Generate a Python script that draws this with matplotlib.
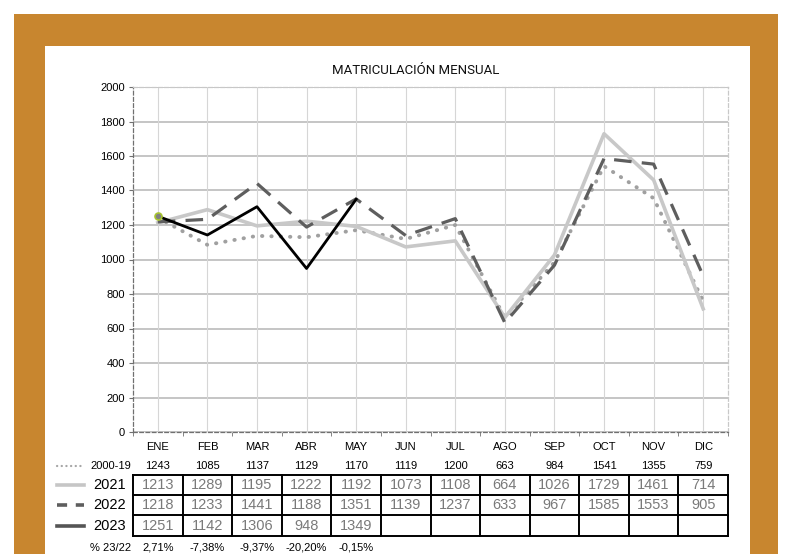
import numpy as np
import matplotlib
matplotlib.use('Agg')
import matplotlib.pyplot as plt
from matplotlib.patches import Rectangle
from matplotlib.transforms import blended_transform_factory

months = ['ENE', 'FEB', 'MAR', 'ABR', 'MAY', 'JUN', 'JUL', 'AGO', 'SEP', 'OCT', 'NOV', 'DIC']
avg_2000_19 = [1243, 1085, 1137, 1129, 1170, 1119, 1200, 663, 984, 1541, 1355, 759]
y2021 = [1213, 1289, 1195, 1222, 1192, 1073, 1108, 664, 1026, 1729, 1461, 714]
y2022 = [1218, 1233, 1441, 1188, 1351, 1139, 1237, 633, 967, 1585, 1553, 905]
y2023 = [1251, 1142, 1306, 948, 1349]
yticks = list(range(0, 2001, 200))

plt.rcParams['font.family'] = ['Liberation Sans Narrow', 'Liberation Sans', 'DejaVu Sans']

W, H = 786, 554
fig = plt.figure(figsize=(W / 100, H / 100), dpi=100, facecolor='white')

# orange frame and white panel (pixel coords -> figure fraction)
def px_rect(x0, y0, x1, y1, color):
    return Rectangle((x0 / W, 1 - y1 / H), (x1 - x0) / W, (y1 - y0) / H,
                     transform=fig.transFigure, facecolor=color, edgecolor='none', zorder=-5)

fig.patches.append(px_rect(14, 14, 778, 554, '#C8862F'))
fig.patches.append(px_rect(45, 46, 750, 554, 'white'))

# main chart
ax = fig.add_axes([133 / W, 1 - 432 / H, 595 / W, 345 / H])
ax.set_facecolor('none')
x = np.arange(len(months))
ax.set_xlim(-0.5, len(months) - 0.5)
ax.set_ylim(0, 2000)

for yv in yticks:
    ax.axhline(yv, color='#B5B5B5', lw=1.1, zorder=1)
for xv in x:
    ax.axvline(xv, color='#D6D6D6', lw=0.8, zorder=1)

ax.plot(x, avg_2000_19, color='#A0A0A0', lw=2.8, linestyle=(0, (0.1, 2.3)),
        dash_capstyle='round', zorder=3)
ax.plot(x, y2021, color='#C8C8C8', lw=2.6, zorder=4)
ax.plot(x, y2022, color='#5E5E5E', lw=2.3, linestyle=(0, (5.5, 3.2)), zorder=5)
ax.plot(x[:len(y2023)], y2023, color='black', lw=2.0, zorder=6,
        marker='o', markevery=[0], ms=5, mfc='#808080', mec='#A8C430', mew=1.2)

ax.set_yticks(yticks)
ax.set_yticklabels([str(v) for v in yticks], fontsize=8)
ax.set_xticks(x)
ax.set_xticklabels(months, fontsize=8)
ax.set_xticks(np.arange(-0.5, len(months)), minor=True)
ax.tick_params(axis='x', which='major', length=0, pad=7)
ax.tick_params(axis='x', which='minor', length=3, color='#707070')
ax.tick_params(axis='y', length=3, color='#707070', pad=3)

for side in ['left', 'bottom']:
    ax.spines[side].set_linestyle((0, (3, 2)))
    ax.spines[side].set_color('#707070')
    ax.spines[side].set_linewidth(0.9)
for side in ['top', 'right']:
    ax.spines[side].set_linestyle((0, (3, 2)))
    ax.spines[side].set_color('#C8C8C8')
    ax.spines[side].set_linewidth(0.9)

fig.text(416 / W, 1 - 70 / H, 'MATRICULACIÓN MENSUAL', ha='center', va='center',
         fontsize=9.5, family=['Roboto', 'DejaVu Sans'], color='#111111')

# table area in pixel coords, x columns taken from the chart's data axis
tab = fig.add_axes([0, 0, 1, 1])
tab.set_xlim(0, W)
tab.set_ylim(H, 0)
tab.axis('off')
tab.set_facecolor('none')
colT = blended_transform_factory(ax.transData, tab.transData)

row_y = {'avg': 466, '2021': 485, '2022': 505, '2023': 526, 'pct': 548}
table_top, table_bot = 475, 536
row_lines = [475, 495, 515, 536]
big = 10.5

for i, v in enumerate(avg_2000_19):
    tab.text(i, row_y['avg'], str(v), transform=colT, ha='center', va='center',
             fontsize=8, color='black')
for i, v in enumerate(y2021):
    tab.text(i, row_y['2021'], str(v), transform=colT, ha='center', va='center',
             fontsize=big, color='#7A7A7A')
for i, v in enumerate(y2022):
    tab.text(i, row_y['2022'], str(v), transform=colT, ha='center', va='center',
             fontsize=big, color='#7A7A7A')
for i, v in enumerate(y2023):
    tab.text(i, row_y['2023'], str(v), transform=colT, ha='center', va='center',
             fontsize=big, color='#7A7A7A')
for i, v in enumerate(y2023):
    pct = (v / y2022[i] - 1) * 100
    tab.text(i, row_y['pct'], f'{pct:.2f}%'.replace('.', ','), transform=colT,
             ha='center', va='center', fontsize=8, color='black')

for ry in row_lines:
    tab.plot([-0.5, len(months) - 0.5], [ry, ry], transform=colT, color='black', lw=1.4,
             clip_on=False)
for b in np.arange(-0.5, len(months)):
    tab.plot([b, b], [table_top, table_bot], transform=colT, color='black', lw=1.4,
             clip_on=False)

# row labels and legend keys
tab.text(111, row_y['avg'], '2000-19', ha='center', va='center', fontsize=8)
tab.text(110, row_y['2021'], '2021', ha='center', va='center', fontsize=big)
tab.text(110, row_y['2022'], '2022', ha='center', va='center', fontsize=big)
tab.text(110, row_y['2023'], '2023', ha='center', va='center', fontsize=big)
tab.text(111, row_y['pct'], '% 23/22', ha='center', va='center', fontsize=8)

tab.plot([57, 84], [row_y['avg'], row_y['avg']], color='#A6A6A6', lw=1.6,
         linestyle=(0, (0.1, 2.0)), dash_capstyle='round')
tab.plot([57, 84], [row_y['2021'], row_y['2021']], color='#C6C6C6', lw=2.6)
tab.plot([57, 84], [row_y['2022'], row_y['2022']], color='#5E5E5E', lw=2.6,
         linestyle=(0, (2.8, 2.4)))
tab.plot([57, 84], [row_y['2023'], row_y['2023']], color='#555555', lw=2.6)

fig.savefig('out.png', dpi=100, facecolor='white')
